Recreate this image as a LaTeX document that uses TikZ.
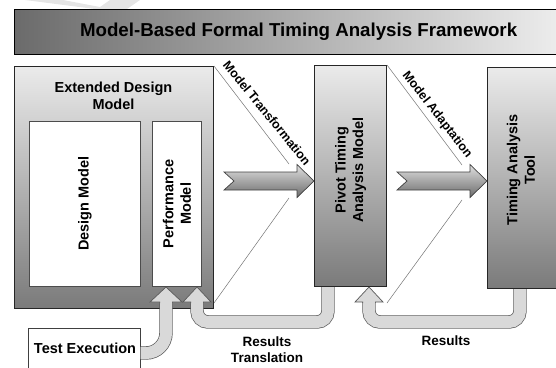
\documentclass[tikz,border=0pt]{standalone}
\usepackage{fontspec}
\setmainfont{Liberation Sans}
\usetikzlibrary{calc,positioning}

\tikzset{
    pics/fatarrow/.style={code={
        \path[draw=black!75, line width=0.7pt, top color=black!12, bottom color=black!58]
            (-90,-9) -- (-17,-9) -- (-17,-16.5) -- (0,0) -- (-17,16.5) -- (-17,9) -- (-90,9) -- (-80,0) -- cycle;
    }},
    pics/tubehead/.style={code={
        \path[fill=black!15, draw=black!65, line width=0.7pt, line join=miter]
            (-6.35,1) -- (-6.35,0) -- (-#1,0) -- (0,-15) -- (#1,0) -- (6.35,0) -- (6.35,1);
    }}
}

\begin{document}
\begin{tikzpicture}[x=1pt, y=-1pt,
    modelbox/.style={rectangle, draw=black!85, line width=1pt, top color=black!8, bottom color=black!52, anchor=north west, inner sep=0pt},
    whitebox/.style={rectangle, draw=black!70, line width=0.7pt, fill=white, anchor=north west, inner sep=0pt},
    boldtext/.style={font=\bfseries\fontsize{14.5}{17.5}\selectfont, align=center},
    smalltext/.style={font=\bfseries\fontsize{13.5}{15.5}\selectfont, align=center},
    slanttext/.style={font=\bfseries\fontsize{12.5}{14}\selectfont, rotate=-51},
    guideline/.style={draw=black!55, line width=0.5pt},
    tube/.style={draw=black!65, line width=0.7pt, double=black!15, double distance=12pt, rounded corners=11pt}
    ]
    \useasboundingbox (0,0) rectangle (556,367);

    %Swoosh behind the title
    \fill[black!10] (25,0) -- (63,0) -- (100,7) -- (110,0) -- (140,0) -- (127,9) -- (95,9) -- cycle;

    %Title
    \node[rectangle, draw=black, line width=1.2pt, left color=black!58, right color=black!5, anchor=north west,
          minimum width=568pt, minimum height=45pt, font=\bfseries\fontsize{18.7}{22}\selectfont] (title) at (14,9)
          {Model-Based Formal Timing Analysis Framework};

    %Boxes
    \node[modelbox, minimum width=199pt, minimum height=242pt] (ext) at (14,66) {};
    \node[whitebox, minimum width=111pt, minimum height=165pt] (design) at (29,121) {};
    \node[whitebox, minimum width=49pt, minimum height=165pt] (perf) at (152,121) {};
    \node[modelbox, minimum width=72pt, minimum height=221pt] (pivot) at (314,65) {};
    \node[modelbox, minimum width=80pt, minimum height=221pt] (tool) at (487,67) {};
    \node[whitebox, draw=black!75, minimum width=112pt, minimum height=50pt] (test) at (28,328) {};

    %Box texts
    \node[boldtext] (extText) at (113.5,96) {Extended Design\\Model};
    \node[boldtext, rotate=90] (designText) at (design.center) {Design Model};
    \node[boldtext, rotate=90] (perfText) at (perf.center) {Performance\\Model};
    \node[boldtext, rotate=90] (pivotText) at ($(pivot.center)+(0,-6)$) {Pivot Timing\\Analysis Model};
    \node[boldtext, rotate=90] (toolText) at (521,170) {Timing Analysis\\Tool};
    \node[boldtext] (testText) at (85,348) {Test Execution};

    %Transformation arrows
    \pic at (pivot.west |- 0,181) {fatarrow};
    \pic at (tool.west |- 0,181) {fatarrow};

    \coordinate (tA) at (289,164);
    \coordinate (bA) at (289,198);
    \coordinate (tB) at (462,165);
    \coordinate (bB) at (462,200);
    \draw[guideline] (ext.north east) -- (tA);
    \draw[guideline] (ext.east |- 0,303) -- (bA);
    \draw[guideline] (pivot.north east) -- (tB);
    \draw[guideline] (pivot.east |- 0,303) -- (bB);

    \node[slanttext] (transText) at (267,113) {Model Transformation};
    \node[slanttext, rotate=-1] (adaptText) at (437,115) {Model Adaptation};

    %Feedback tubes
    \coordinate (teStart) at (test.east |- 0,353);
    \coordinate (teHead) at (166,302);
    \draw[tube, rounded corners=20pt] (teStart) -| (teHead);
    \pic at (teHead) {tubehead=16};

    \coordinate (rtStart) at ($(pivot.south west)+(14,0)$);
    \coordinate (rtHead) at (197,302);
    \draw[tube] (rtStart) |- ($(rtHead)+(0,20)$) -- (rtHead);
    \pic at (rtHead) {tubehead=14};

    \coordinate (rsStart) at ($(tool.south west)+(33,0)$);
    \coordinate (rsHead) at (369,302);
    \draw[tube] (rsStart) |- ($(rsHead)+(0,20)$) -- (rsHead);
    \pic at (rsHead) {tubehead=14};

    \node[smalltext] (rtText) at (267,349.5) {Results\\Translation};
    \node[smalltext] (rsText) at (446,341) {Results};
\end{tikzpicture}
\end{document}
